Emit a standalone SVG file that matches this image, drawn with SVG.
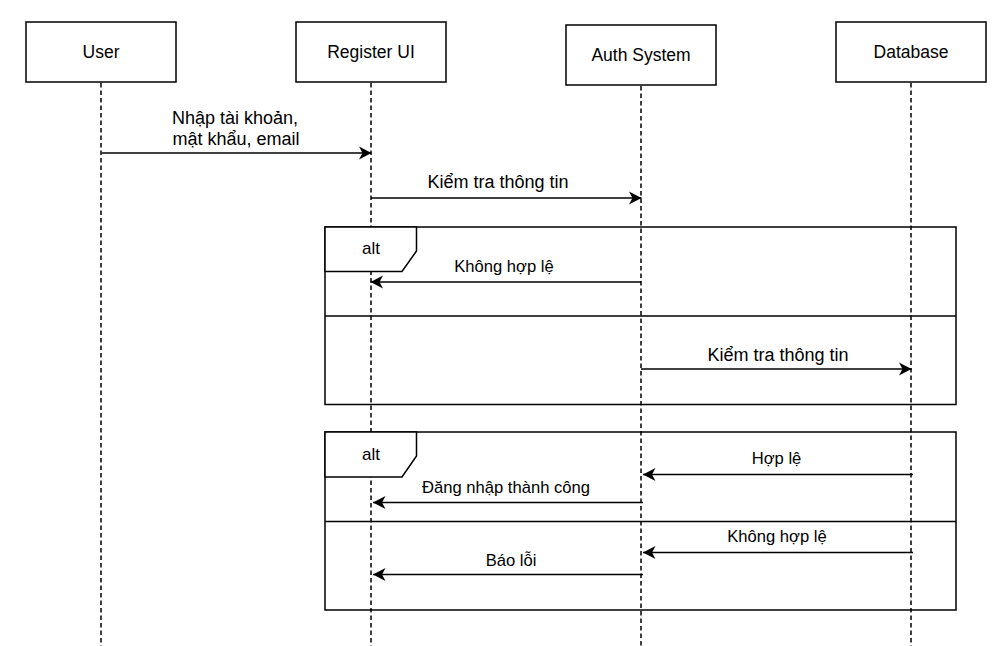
<svg xmlns="http://www.w3.org/2000/svg" width="1007" height="646" viewBox="0 0 1007 646">
<style>
.box{fill:#fff;stroke:#000;stroke-width:1.5}
.frame{fill:none;stroke:#000;stroke-width:1.5}
.tab{fill:#fff;stroke:#000;stroke-width:1.5}
.life{stroke:#000;stroke-width:1.5;stroke-dasharray:4.5 3;fill:none}
.msg{stroke:#000;stroke-width:1.4;fill:none;marker-end:url(#arr)}
text{font-family:"Liberation Sans",Arial,sans-serif;font-size:18px;fill:#000;text-anchor:middle}
.hdr{font-size:17.5px}
.lbl{font-size:17px}
.sm{font-size:16.6px}
</style>
<defs>
<marker id="arr" viewBox="0 0 14 14" refX="13" refY="7" markerWidth="14" markerHeight="14" markerUnits="userSpaceOnUse" orient="auto">
<path d="M0.5,0.5 L13,7 L0.5,13.5 L4,7 Z" fill="#000"/>
</marker>
</defs>
<rect width="1007" height="646" fill="#fff"/>
<g id="lifelines">
<line class="life" x1="101" y1="83" x2="101" y2="646"/>
<line class="life" x1="371" y1="83" x2="371" y2="646"/>
<line class="life" x1="641" y1="86" x2="641" y2="646"/>
<line class="life" x1="911" y1="83" x2="911" y2="646"/>
</g>
<g id="user"><rect class="box" x="26" y="22" width="150" height="60"/><text class="hdr" x="101" y="58">User</text></g>
<g id="register-ui"><rect class="box" x="296" y="22" width="150" height="60"/><text class="hdr" x="371" y="58">Register UI</text></g>
<g id="auth-system"><rect class="box" x="566" y="25" width="150" height="60"/><text class="hdr" x="641" y="61">Auth System</text></g>
<g id="database"><rect class="box" x="836" y="22" width="150" height="60"/><text class="hdr" x="911" y="58">Database</text></g>
<g id="alt1">
<rect class="frame" x="325" y="227" width="631" height="177.5"/>
<path class="tab" d="M325,227 L416.5,227 L416.5,251 L402,271.5 L325,271.5 Z"/>
<line class="frame" x1="325" y1="316" x2="956" y2="316"/>
<text class="lbl" x="371" y="253.5">alt</text>
</g>
<g id="alt2">
<rect class="frame" x="325" y="432" width="631" height="178"/>
<path class="tab" d="M325,432 L416.5,432 L416.5,456 L402,477 L325,477 Z"/>
<line class="frame" x1="325" y1="521.5" x2="956" y2="521.5"/>
<text class="lbl" x="371" y="460">alt</text>
</g>
<g id="connectors">
<line class="msg" x1="102" y1="153" x2="371.5" y2="153"/>
<text x="235" y="124">Nhập tài khoản,</text>
<text x="236" y="145">mật khẩu, email</text>
<line class="msg" x1="371" y1="198" x2="641.5" y2="198"/>
<text x="498" y="188">Kiểm tra thông tin</text>
<line class="msg" x1="641" y1="282" x2="370.5" y2="282"/>
<text class="sm" x="504" y="272">Không hợp lệ</text>
<line class="msg" x1="641" y1="369" x2="911.5" y2="369"/>
<text x="778" y="361">Kiểm tra thông tin</text>
<line class="msg" x1="913" y1="474.5" x2="643" y2="474.5"/>
<text class="sm" x="776.5" y="464">Hợp lệ</text>
<line class="msg" x1="643" y1="502.5" x2="373" y2="502.5"/>
<text class="sm" x="506" y="493">Đăng nhập thành công</text>
<line class="msg" x1="913" y1="552.5" x2="643" y2="552.5"/>
<text class="sm" x="777" y="542">Không hợp lệ</text>
<line class="msg" x1="643" y1="574.5" x2="373" y2="574.5"/>
<text class="sm" x="511" y="566">Báo lỗi</text>
</g>
</svg>
